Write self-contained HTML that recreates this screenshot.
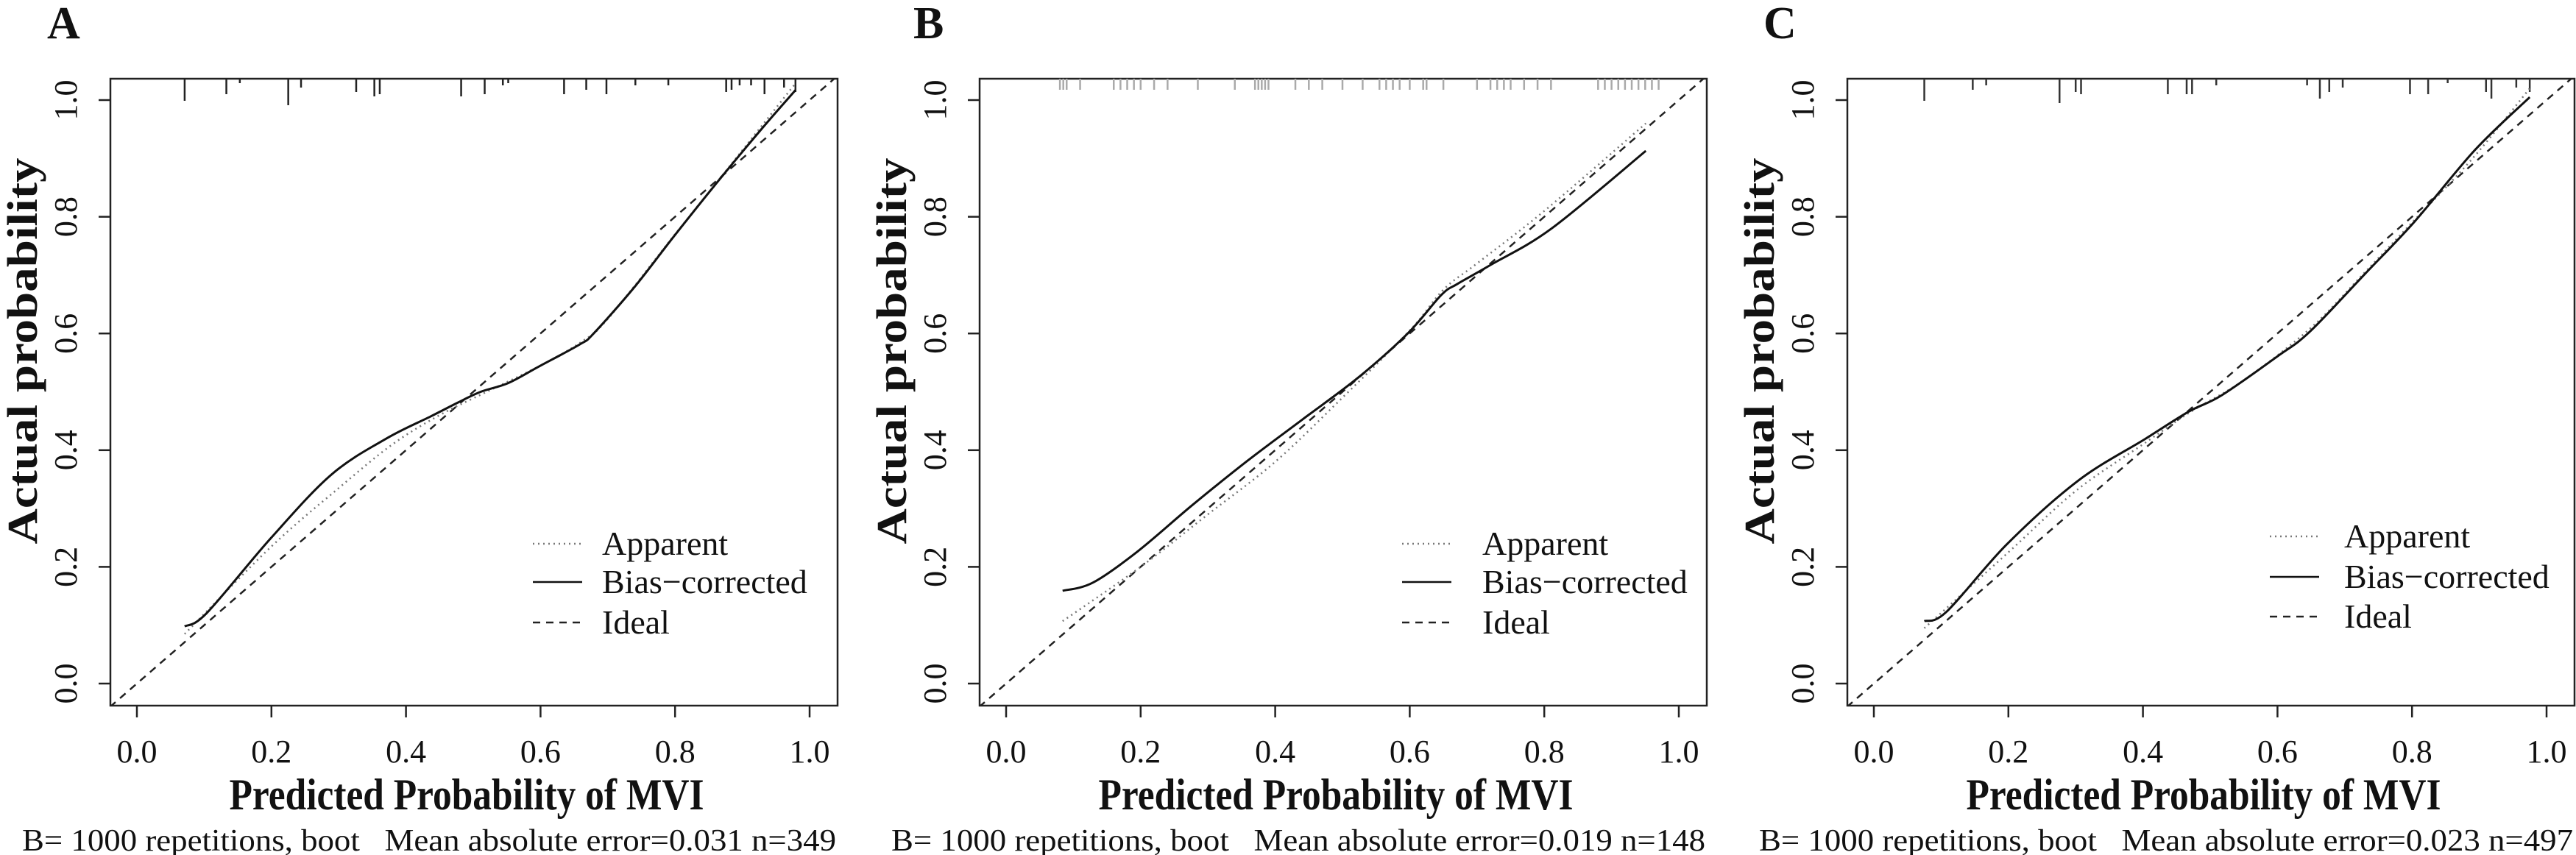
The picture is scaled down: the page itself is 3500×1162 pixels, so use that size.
<!DOCTYPE html>
<html><head><meta charset="utf-8"><style>
html,body{margin:0;padding:0;background:#fff}
svg{display:block}
text{font-family:"Liberation Serif",serif;fill:#111}
</style></head><body>
<svg id="fig" width="3500" height="1162" viewBox="0 0 3500 1162" xmlns="http://www.w3.org/2000/svg"></svg>
<script>
const xTicks = [0, 0.2, 0.4, 0.6, 0.8, 1.0];
const yTicks = [0, 0.2, 0.4, 0.6, 0.8, 1.0];
const tickLabels = ["0.0","0.2","0.4","0.6","0.8","1.0"];
const panelLetters = ["A","B","C"];
const footers = ["B= 1000 repetitions, boot   Mean absolute error=0.031 n=349",
  "B= 1000 repetitions, boot   Mean absolute error=0.019 n=148",
  "B= 1000 repetitions, boot   Mean absolute error=0.023 n=497"];
const legendLabels = ["Apparent","Bias\u2212corrected","Ideal"];

const biasX_A = [0.071,0.104,0.199,0.289,0.371,0.437,0.478,0.511,0.552,0.597,0.658,0.679,0.74,0.798,0.864,0.929,0.979];
const biasY_A = [0.098,0.121,0.249,0.358,0.42,0.458,0.482,0.5,0.515,0.543,0.581,0.6,0.68,0.766,0.861,0.951,1.017];
const appX_A = [0.071,0.2,0.3,0.38,0.45,0.52,0.6,0.66,0.7,0.8,0.88,0.98];
const appY_A = [0.085,0.235,0.335,0.41,0.46,0.5,0.545,0.585,0.625,0.77,0.885,1.03];
const rug_A = [0.071,0.133,0.153,0.225,0.244,0.326,0.353,0.361,0.482,0.517,0.544,0.552,0.635,0.668,0.698,0.741,0.79,0.876,0.884,0.896,0.913,0.933,0.962,0.979];
const rugLen_A = [1,0.7,0.2,1.2,0.4,0.6,0.8,0.7,0.8,0.7,0.3,0.2,0.7,0.5,0.7,0.3,0.3,0.6,0.5,0.3,0.3,0.7,0.4,0.6];

const biasX_B = [0.084,0.129,0.195,0.277,0.359,0.441,0.523,0.597,0.647,0.671,0.721,0.811,0.951];
const biasY_B = [0.159,0.173,0.226,0.306,0.382,0.453,0.524,0.6,0.666,0.685,0.718,0.78,0.913];
const appX_B = [0.084,0.2,0.3,0.4,0.5,0.6,0.65,0.7,0.8,0.951];
const appY_B = [0.107,0.2,0.29,0.38,0.49,0.605,0.675,0.72,0.81,0.96];
const rug_B = [0.08,0.085,0.09,0.11,0.16,0.17,0.18,0.19,0.2,0.22,0.24,0.285,0.34,0.37,0.375,0.38,0.385,0.39,0.43,0.45,0.47,0.5,0.53,0.555,0.565,0.575,0.585,0.6,0.62,0.625,0.65,0.7,0.72,0.73,0.74,0.75,0.77,0.79,0.81,0.88,0.89,0.9,0.91,0.92,0.93,0.94,0.95,0.96,0.97];
const rugLen_B = [0.5,0.5,0.5,0.5,0.5,0.5,0.5,0.5,0.5,0.5,0.5,0.5,0.5,0.5,0.5,0.5,0.5,0.5,0.5,0.5,0.5,0.5,0.5,0.5,0.5,0.5,0.5,0.5,0.5,0.5,0.5,0.5,0.5,0.5,0.5,0.5,0.5,0.5,0.5,0.5,0.5,0.5,0.5,0.5,0.5,0.5,0.5,0.5,0.5];

const biasX_C = [0.075,0.108,0.198,0.304,0.403,0.468,0.517,0.599,0.648,0.73,0.804,0.894,0.975];
const biasY_C = [0.107,0.123,0.239,0.348,0.419,0.466,0.494,0.56,0.603,0.702,0.792,0.915,1.005];
const appX_C = [0.075,0.2,0.3,0.4,0.47,0.55,0.65,0.73,0.8,0.89,0.975];
const appY_C = [0.095,0.225,0.33,0.41,0.465,0.52,0.61,0.705,0.79,0.9,1.02];
const rug_C = [0.075,0.147,0.167,0.276,0.3,0.308,0.437,0.465,0.473,0.509,0.644,0.663,0.677,0.697,0.797,0.824,0.853,0.91,0.918,0.955,0.975];
const rugLen_C = [1,0.5,0.3,1.1,0.6,0.7,0.7,0.7,0.7,0.3,0.3,0.9,0.6,0.4,0.7,0.7,0.2,0.6,0.9,0.4,0.6];

const panels = [
  {L:150, bx:biasX_A, by:biasY_A, ax:appX_A, ay:appY_A, rug:rug_A, rl:rugLen_A, rugColor:"#222", legY:[739,791,846], legText:668, letterX:64},
  {L:1331, bx:biasX_B, by:biasY_B, ax:appX_B, ay:appY_B, rug:rug_B, rl:rugLen_B, rugColor:"#aaa", legY:[739,791,846], legText:683, letterX:1241},
  {L:2510, bx:biasX_C, by:biasY_C, ax:appX_C, ay:appY_C, rug:rug_C, rl:rugLen_C, rugColor:"#333", legY:[729,784,838], legText:675, letterX:2396}
];
const NS = "http://www.w3.org/2000/svg";
const svg = document.getElementById("fig");
function mk(tag, attrs, parent){ const e=document.createElementNS(NS,tag); for(const k in attrs) e.setAttribute(k,attrs[k]); (parent||svg).appendChild(e); return e; }
function smooth(pts){
  let d="M"+pts[0][0]+","+pts[0][1];
  for(let i=0;i<pts.length-1;i++){
    const p0=pts[Math.max(0,i-1)],p1=pts[i],p2=pts[i+1],p3=pts[Math.min(pts.length-1,i+2)];
    const c1=[p1[0]+(p2[0]-p0[0])/6,p1[1]+(p2[1]-p0[1])/6];
    const c2=[p2[0]-(p3[0]-p1[0])/6,p2[1]-(p3[1]-p1[1])/6];
    d+=` C${c1[0]},${c1[1]} ${c2[0]},${c2[1]} ${p2[0]},${p2[1]}`;
  }
  return d;
}

panels.forEach((p,i)=>{
  const g = mk("g",{});
  
  
  const L=p.L, W=988, T=107, B=959;
  const x0=L+36, xs=914, y0=929, ys=793;
  const X=v=>x0+v*xs, Y=v=>y0-v*ys;
  const frame = mk("rect",{x:L,y:T,width:W,height:B-T,fill:"none",stroke:"#222","stroke-width":2.5},g);
  
  
  xTicks.forEach((t,j)=>{
    mk("line",{x1:X(t),x2:X(t),y1:B,y2:B+16,stroke:"#222","stroke-width":2.5},g);
    const tl = mk("text",{x:X(t),y:1036,"font-size":44,"text-anchor":"middle"},g);
    tl.textContent = tickLabels[j];
    
    
  });
  yTicks.forEach((t,j)=>{
    mk("line",{x1:L-16,x2:L,y1:Y(t),y2:Y(t),stroke:"#222","stroke-width":2.5},g);
    const tl = mk("text",{x:0,y:0,"font-size":44,"text-anchor":"middle",transform:`translate(${L-46},${Y(t)}) rotate(-90)`},g);
    tl.textContent = tickLabels[j];
    
    
  });
  const xt = mk("text",{x:L+W/2-10,y:1100,"font-size":60,"font-weight":"bold","text-anchor":"middle",textLength:645,lengthAdjust:"spacingAndGlyphs"},g);
  xt.textContent="Predicted Probability of MVI";
  
  
  const yt = mk("text",{x:0,y:0,"font-size":58,"font-weight":"bold","text-anchor":"middle",textLength:525,lengthAdjust:"spacingAndGlyphs",transform:`translate(${L-100},${477}) rotate(-90)`},g);
  yt.textContent="Actual probability";
  
  
  const lt = mk("text",{x:p.letterX,y:52,"font-size":62,"font-weight":"bold"},g);
  lt.textContent=panelLetters[i];
  
  
  const ft = mk("text",{x:L-120,y:1156,"font-size":42,textLength:1106,lengthAdjust:"spacingAndGlyphs",style:"white-space:pre"},g);
  ft.textContent=footers[i];
  
  
  p.rug.forEach((v,j)=>{
    const r = mk("line",{x1:X(v),x2:X(v),y1:T,y2:T+p.rl[j]*30,stroke:p.rugColor,"stroke-width":2.5},g);
    
    
  });
  const cid="clip"+i;
  const cp = mk("clipPath",{id:cid},g);
  mk("rect",{x:L,y:T,width:W,height:B-T},cp);
  const ideal = mk("line",{x1:X(-0.04),y1:Y(-0.04),x2:X(1.04),y2:Y(1.04),stroke:"#222","stroke-width":2.5,"stroke-dasharray":"10,8","clip-path":`url(#${cid})`},g);
  
  
  const app = mk("path",{d:smooth(p.ax.map((v,k)=>[X(v),Y(p.ay[k])])),fill:"none",stroke:"#777","stroke-width":2.5,"stroke-dasharray":"2,5"},g);
  
  
  const bias = mk("path",{d:smooth(p.bx.map((v,k)=>[X(v),Y(p.by[k])])),fill:"none",stroke:"#111","stroke-width":3,"stroke-linejoin":"round"},g);
  
  
  const styles=[{s:"#777",d:"2,5"},{s:"#111",d:"none"},{s:"#222",d:"10,8"}];
  legendLabels.forEach((lab,k)=>{
    const ly=p.legY[k];
    const ll = mk("line",{x1:L+574,x2:L+641,y1:ly,y2:ly,stroke:styles[k].s,"stroke-width":2.5,"stroke-dasharray":styles[k].d},g);
    
    
    const tx = mk("text",{x:L+p.legText,y:ly+15,"font-size":46},g);
    tx.textContent=lab;
    
    
  });
});
</script>
</body></html>
